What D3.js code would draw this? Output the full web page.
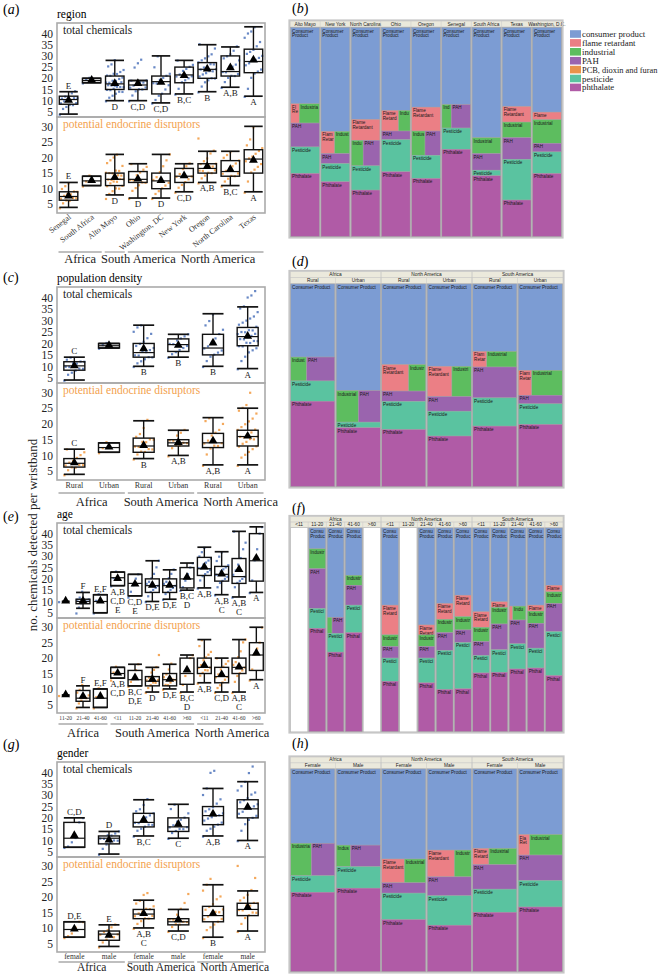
<!DOCTYPE html>
<html><head><meta charset="utf-8">
<script src="https://cdn.jsdelivr.net/npm/d3@7"></script>
<style>body{margin:0;background:#fff} svg{display:block}</style>
</head><body><svg id="c" width="660" height="974"></svg>
<script>
// ---------------- DATA: box plots ----------------
const yTicksTotal = [5,10,15,20,25,30,35,40];
const yTicksEdc = [5,10,15,20,25,30];

// (a) region
const regionCats = ["Senegal","South Africa","Alto Mayo","Ohio","Washington, DC","New York","Oregon","North Carolina","Texas"];
const regionGroups = ["Africa","Africa","South America","North America","North America","North America","North America","North America","North America"];
const regionTotStats = [[4,8.4,10.5,12,14],[18,18,19,20,20],[10,15,17.5,21,28],[10,15,17,19,19],[9,13,18.5,21,30],[13,18,21.5,25,28],[14,20,24,27,35],[16,21,23,30,34],[12,22.5,27.5,33,43]];
const regionTotMeans = [10,19,17.5,17.5,18,21,24,24.5,28];
const regionTotLetters = ["E","","D","C,D","C,D","B,C","B","A,B","A"];
const regionTotPts = [[4,6,7,8,8,9,9,10,10,10,11,11,11,12,12,13,14],[18,19,20],[10,11,12,13,14,14,15,15,15,16,16,16,17,17,17,17,18,18,18,19,19,20,20,21,21,22,22,23,24,25,26,28],[10,12,14,15,15,16,16,17,17,18,18,19,19,25,27,28],[9,10,12,13,15,17,18,18,19,20,21,22,25,30],[13,15,18,19,20,21,21,22,23,24,25,26,28],[14,16,18,19,20,20,21,22,22,23,23,24,24,25,25,26,26,27,28,29,30,31,33,35],[16,18,20,21,21,22,23,23,24,25,26,28,29,30,31,32,34],[12,15,20,22,23,24,26,27,28,28,29,30,31,32,33,34,36,38,40,41,43]];
const regionEdcStats = [[4,6.3,7.5,9,12],[11,11,12.5,14,14],[8,11,13,15,21],[7,12,13,15.5,18],[7,10,12.5,15,21],[9,12,14,16.5,18],[12,15,16.5,18,22],[11,14,15.5,19,22],[9,15,19.5,22.5,30]];
const regionEdcMeans = [7.5,12.5,13.5,13,12.5,14,17,16,19];
const regionEdcLetters = ["E","","D","D","D","C,D","A,B","B,C","A"];
const regionEdcPts = [[4,5,6,6,7,7,7,8,8,8,9,9,10,11,12],[11,12,14],[7,8,9,10,10,11,11,12,12,12,13,13,13,13,14,14,14,15,15,15,16,16,17,18,19,20,21],[7,9,10,11,12,12,13,13,14,15,16,17,18],[7,8,9,10,11,12,13,14,15,17,19,21],[9,10,11,12,13,14,14,15,16,17,18],[12,13,14,15,15,16,16,16,17,17,17,18,18,19,20,21,22,26],[11,12,13,14,14,15,15,16,16,17,18,19,20,21,22],[9,12,15,16,17,18,19,20,20,21,22,23,24,26,30]];

// (c) population density
const popCats = ["Rural","Urban","Rural","Urban","Rural","Urban"];
const popGroups = ["Africa","Africa","South America","South America","North America","North America"];
const popTotStats = [[4,8.3,10.2,12,14],[18,18,19,20,20],[10,14,16,20,28],[14,16.5,19.5,22,24],[10,15,18,24,33],[9,19,23,27,36]];
const popTotMeans = [10,19,17.5,19,20,23];
const popTotLetters = ["C","","B","B","B","A"];
const popTotPts = [[4,6,7,8,9,9,10,10,11,11,12,12,13,14],[18,19,20],[10,11,12,13,14,14,15,15,16,16,17,18,19,20,21,22,24,25,27,28],[14,15,16,17,18,19,20,20,21,22,23,24],[10,12,14,15,16,17,18,19,20,22,24,26,28,30,33],[9,12,14,16,17,18,19,19,20,20,21,21,22,22,23,23,24,24,25,25,26,26,27,28,29,30,31,32,34,35,36,40,41,43]];
const popEdcStats = [[4,6.3,7.5,9,12],[11,11,12.5,14,14],[9,11,13,15.5,21],[10,13,14,15,18],[7,12.5,14,17,22],[7,13,16,18,25]];
const popEdcMeans = [7.5,12.5,13,14,14.5,16];
const popEdcLetters = ["C","","B","A,B","A,B","A"];
const popEdcPts = [[4,5,6,6,7,7,7,8,8,9,10,11,12],[11,12,14],[9,10,11,11,12,12,13,13,14,14,15,15,16,17,19,21],[10,12,13,13,14,14,15,15,16,17,18],[7,10,12,13,13,14,14,15,16,17,18,20,21,22],[7,9,10,11,12,13,13,14,14,15,15,16,16,16,17,17,18,18,19,20,21,22,23,24,25,26,30]];

// (e) age
const ageCats = ["11-20","21-40","41-60","<11","11-20","21-40","41-60",">60","<11","21-40","41-60",">60"];
const ageGroups = ["Africa","Africa","Africa","South America","South America","South America","South America","South America","North America","North America","North America","North America"];
const ageTotStats = [[10,10,10,10,10],[7,9,10,11,14],[5,5,10,13,13],[17,17,20.5,23,23],[12.5,12.5,18,22,22],[10,14,17,20,28],[11,14,17,20,24],[15,16,20,25,27],[16,21.5,24.5,29.5,34],[13,19,22,25.5,32],[12,18,21,29,41],[14,19,28,40,43]];
const ageTotMeans = [10,10,10,20,17.5,17,17,20.5,25,22,24,29];
const ageTotLetters = ["","F","E,F","A,B\nC,D\nE","C,D\nE","D,E","D,E","B,C\nD","A,B","A,B\nC","A,B\nC","A"];
const ageTotPts = [[10],[5,7,9,10,10,11,11,12,14],[5,10,13],[17,20,23],[12,14,17,20,22],[10,12,14,15,16,17,18,19,20,22,25,28],[11,13,14,15,16,17,18,19,20,22,24],[15,16,19,22,25,27],[16,19,21,22,23,24,25,25,26,27,28,29,30,32,34],[13,16,18,19,20,21,22,22,23,24,25,26,28,30,32],[12,16,18,19,20,21,22,24,26,29,33,36,41],[14,19,28,33,40,43]];
const ageEdcStats = [[8,8,8,8,8],[4,6,7,9.5,11],[4,4,7,10,10],[13.5,13.5,15,17,17],[11,11,13,16,18],[9,11,12.5,14,17],[10,11,13,15,18],[9,11.5,15,20,21],[12,15,17,20,26],[9,12,14,17,20],[9,15,17,20,26],[13,16,21,25,30]];
const ageEdcMeans = [8,7.5,7.5,15,13.5,13,13,16,17.5,14.5,17,21.5];
const ageEdcLetters = ["","F","E,F","A,B\nC,D","B,C\nD,E","D","D,E","B,C\nD","A,B","C,D","A,B\nC","A"];
const ageEdcPts = [[8],[4,5,6,7,7,8,9,10,11],[4,7,10],[13,15,17],[11,12,13,16,18],[9,10,11,12,12,13,13,14,15,16,17,21],[10,11,11,12,13,13,14,15,16,18],[9,11,14,16,20,21],[12,14,15,16,16,17,17,18,19,20,21,22,24,26],[9,10,11,12,13,14,14,15,16,17,18,19,20],[9,12,14,15,16,17,18,19,20,22,25,26],[13,16,21,23,25,30]];

// (g) gender
const genderCats = ["female","male","female","male","female","male"];
const genderGroups = ["Africa","Africa","South America","South America","North America","North America"];
const genderTotStats = [[7,7,11,18,20],[4,8.5,11,12,14],[12,16,18,22,28],[11,14,16,20,26],[12,17,21,25,33],[10,20,24,28,36]];
const genderTotMeans = [12,10,19,17,21.5,24.5];
const genderTotLetters = ["C,D","D","B,C","C","A,B","A"];
const genderTotPts = [[7,7,9,11,18,20],[4,6,8,9,10,10,11,11,12,12,13,14],[12,14,15,16,17,17,18,18,19,20,21,22,23,24,26,28],[11,13,14,15,15,16,16,17,18,19,20,22,24,26],[12,14,15,16,17,18,19,20,20,21,21,22,23,24,25,26,28,30,33,40,41],[10,14,17,19,20,21,22,23,24,24,25,26,27,28,29,30,31,32,34,36,40,43]];
const genderEdcStats = [[7,7,9.5,12,12],[4,6,8,9,11],[10,13,14.5,16,19],[9,11,12,13,16],[7,12,14,17,24],[9,14,16,18,22]];
const genderEdcMeans = [9.5,7.5,14.5,12.5,14.5,16.5];
const genderEdcLetters = ["D,E","E","A,B\nC","C,D","B","A"];
const genderEdcPts = [[7,7,8,10,12,12],[4,5,6,7,7,8,8,9,9,10,11],[10,11,12,13,13,14,14,15,15,16,16,17,18,19,21,21],[9,10,11,11,12,12,13,13,14,16,18,21],[7,9,10,11,12,13,13,14,14,15,15,16,16,17,18,19,20,22,24,26],[9,11,13,14,15,15,16,16,17,17,18,18,19,20,21,22,26,30]];

// ---------------- DATA: treemaps ----------------
const classNames = ["Consumer Product","Flame Retardant","Industrial","PAH","PCB","Pesticide","Phthalate"];
const legendNames = ["consumer product","flame retardant","industrial","PAH","PCB, dioxin and furan","pesticide","phthalate"];
const classColors = ["#7c9cd3","#eb7f85","#5dbd5f","#9a64ae","#e8924a","#5ac3a0","#b05ba6"];

const regionTreeCols = ["Alto Mayo","New York","North Carolina","Ohio","Oregon","Senegal","South Africa","Texas","Washington, D.C."];
const regionTreeVals = [[230,17,41,72,0,80,190],[313,32,35,30,0,55,165],[277,63,32,45,0,73,140],[250,37,25,26,0,97,195],[240,72,34,39,0,70,175],[232,0,23,48,0,64,263],[332,0,48,50,0,17,183],[238,47,47,65,0,123,110],[255,23,71,26,0,65,190]];

const treeContinents = ["Africa","North America","South America"];
const popTreeSubs = ["Rural","Urban"];
const popTreeVals = [[220,0,26,46,0,61,257],[321,0,48,47,0,17,177],[243,49,31,31,0,85,172],[248,51,40,44,0,75,152],[203,15,32,93,0,85,182],[260,23,52,26,0,62,187]];

const ageTreeSubs = ["<11","11-20","21-40","41-60",">60"];
const ageTreeVals = [[0,0,0,0,0,0,0],[63,0,60,120,0,60,312],[270,0,14,34,0,57,240],[143,0,30,60,0,83,299],[0,0,0,0,0,0,0],
  [233,90,35,35,0,70,152],[0,0,0,0,0,0,0],[293,30,35,35,0,75,147],[228,48,40,54,0,118,127],[203,65,40,38,0,140,129],
  [253,47,43,42,0,53,177],[223,17,50,78,0,68,179],[236,9,33,72,0,76,189],[233,18,37,75,0,60,192],[173,20,35,85,0,133,169]];

const genderTreeSubs = ["Female","Male"];
const genderTreeVals = [[225,0,46,52,0,50,240],[230,0,21,44,0,65,252],[272,37,35,31,0,80,157],[245,50,31,57,0,89,140],[240,18,31,74,0,70,179],[198,16,46,77,0,80,195]];

// ---------------- DRAWING ----------------
const svg = d3.select("#c");
const SERIF = "'Liberation Serif','DejaVu Serif',serif";
const SANS = "'Liberation Sans',Arial,sans-serif";
const BLUE = "#4d73bb", ORANGE = "#f2993e", EDC_TEXT = "#f3a24e";
const X0 = 57, X1 = 265;
const TOP_DOMAIN = [2.7, 44.7], BOT_DOMAIN = [2.2, 33];

function panelLabel(x, y, letter) {
  const t = svg.append("text").attr("x", x).attr("y", y).attr("font-family", SERIF).attr("font-size", 14);
  t.append("tspan").text("(");
  t.append("tspan").attr("font-style", "italic").text(letter);
  t.append("tspan").text(")");
}

function boxPanel(p) {
  const g = svg.append("g");
  const n = p.cats.length;
  const x = d3.scaleBand().domain(d3.range(n)).range([X0, X1]);
  const bw = x.bandwidth();
  const boxW = Math.min(bw * 0.8, 21);
  const yT = d3.scaleLinear().domain(TOP_DOMAIN).range([p.mid, p.top]);
  const yB = d3.scaleLinear().domain(BOT_DOMAIN).range([p.bottom, p.mid]);

  g.append("text").attr("x", X0).attr("y", p.top - 5).attr("font-family", SERIF).attr("font-size", 11.5).text(p.title);

  function sub(y, stats, means, letters, pts, col, ticks, label, labelCol, y0, y1) {
    g.append("rect").attr("x", X0).attr("y", y0).attr("width", X1 - X0).attr("height", y1 - y0)
      .attr("fill", "none").attr("stroke", "#aaaaaa").attr("stroke-width", 1.6);
    const ax = g.append("g").attr("transform", `translate(${X0},0)`)
      .call(d3.axisLeft(y).tickValues(ticks).tickSize(0).tickPadding(4));
    ax.select(".domain").remove();
    ax.selectAll("text").attr("font-family", SERIF).attr("font-size", 11.5).attr("fill", "#222");
    g.append("text").attr("x", X0 + 6).attr("y", y0 + 11).attr("font-family", SERIF).attr("font-size", 11.5)
      .attr("fill", labelCol).text(label);
    pts.forEach((arr, i) => {
      const cx = x(i) + bw / 2;
      arr.forEach((v, j) => {
        const jx = (((j * 37) % 17) / 16 - 0.5) * boxW * 0.95;
        const jy = (((j * 13) % 7) / 6 - 0.5) * 0.6;
        g.append("rect").attr("x", cx + jx - 1.1).attr("y", y(v + jy) - 1.1).attr("width", 2.2).attr("height", 2.2)
          .attr("fill", col).attr("opacity", 0.85);
      });
    });
    stats.forEach((s, i) => {
      const cx = x(i) + bw / 2, hw = boxW / 2;
      const [lo, q1, md, q3, hi] = s;
      const bg = g.append("g").attr("stroke", "#111").attr("fill", "none");
      if (q3 > q1) {
        bg.append("rect").attr("x", cx - hw).attr("y", y(q3)).attr("width", boxW).attr("height", y(q1) - y(q3)).attr("stroke-width", 1.4);
        bg.append("line").attr("x1", cx - hw).attr("x2", cx + hw).attr("y1", y(md)).attr("y2", y(md)).attr("stroke-width", 1.2);
      }
      bg.append("line").attr("x1", cx).attr("x2", cx).attr("y1", y(hi)).attr("y2", y(q3)).attr("stroke-width", 1.4);
      bg.append("line").attr("x1", cx).attr("x2", cx).attr("y1", y(q1)).attr("y2", y(lo)).attr("stroke-width", 1.4);
      const capW = q3 > q1 ? hw : hw * 0.55;
      bg.append("line").attr("x1", cx - capW).attr("x2", cx + capW).attr("y1", y(hi)).attr("y2", y(hi)).attr("stroke-width", 1.7);
      bg.append("line").attr("x1", cx - capW).attr("x2", cx + capW).attr("y1", y(lo)).attr("y2", y(lo)).attr("stroke-width", 1.7);
      g.append("path").attr("d", d3.symbol(d3.symbolTriangle, 34)()).attr("transform", `translate(${cx},${y(means[i]) - 0.5})`).attr("fill", "#000");
      const lines = letters[i] ? letters[i].split("\n") : [];
      lines.forEach((ln, k) => {
        let ty;
        if (p.groups[i] === "Africa") ty = y(hi) - 3 - (lines.length - 1 - k) * 9;
        else ty = y(lo) + 9 + k * 9;
        g.append("text").attr("x", cx).attr("y", ty).attr("text-anchor", "middle").attr("font-family", SERIF)
          .attr("font-size", 9).attr("fill", "#222").text(ln);
      });
    });
  }
  sub(yT, p.totStats, p.totMeans, p.totLetters, p.totPts, BLUE, yTicksTotal, "total chemicals", "#222", p.top, p.mid);
  sub(yB, p.edcStats, p.edcMeans, p.edcLetters, p.edcPts, ORANGE, yTicksEdc, "potential endocrine disruptors", EDC_TEXT, p.mid, p.bottom);

  // x labels
  p.cats.forEach((c, i) => {
    const cx = x(i) + bw / 2;
    if (p.rot) {
      g.append("text").attr("transform", `translate(${cx + 3},${p.bottom + 5}) rotate(-38)`).attr("text-anchor", "end")
        .attr("font-family", SERIF).attr("font-size", 8).attr("fill", "#333").text(c);
    } else {
      g.append("text").attr("x", cx).attr("y", p.xLabY).attr("text-anchor", "middle").attr("font-family", SERIF)
        .attr("font-size", p.xLabSize).attr("fill", "#333").text(c);
    }
  });
  // groups
  const segs = [];
  p.groups.forEach((gname, i) => {
    if (!segs.length || segs[segs.length - 1].name !== gname) segs.push({ name: gname, a: i, b: i });
    else segs[segs.length - 1].b = i;
  });
  let prevRight = -Infinity;
  segs.forEach(s => {
    const xa = x(s.a) + 1.5, xb = x(s.b) + bw - 1.5;
    g.append("line").attr("x1", xa).attr("x2", xb).attr("y1", p.grpLineY).attr("y2", p.grpLineY)
      .attr("stroke", "#aaaaaa").attr("stroke-width", 1.3);
    const t = g.append("text").attr("y", p.grpLabY).attr("font-family", SERIF).attr("font-size", p.grpSize || 12.5).attr("fill", "#222").text(s.name);
    const w = t.node().getComputedTextLength();
    let left = (xa + xb) / 2 - w / 2;
    if (left < prevRight + 5) left = prevRight + 5;
    t.attr("x", left);
    prevRight = left + w;
  });
}

boxPanel({ title: "region", top: 23, mid: 117, bottom: 213, rot: true, grpLineY: 252, grpLabY: 263,
  cats: regionCats, groups: regionGroups,
  totStats: regionTotStats, totMeans: regionTotMeans, totLetters: regionTotLetters, totPts: regionTotPts,
  edcStats: regionEdcStats, edcMeans: regionEdcMeans, edcLetters: regionEdcLetters, edcPts: regionEdcPts });
boxPanel({ title: "population density", top: 287, mid: 383, bottom: 480, rot: false, xLabY: 488, xLabSize: 8, grpLineY: 493, grpLabY: 506,
  cats: popCats, groups: popGroups,
  totStats: popTotStats, totMeans: popTotMeans, totLetters: popTotLetters, totPts: popTotPts,
  edcStats: popEdcStats, edcMeans: popEdcMeans, edcLetters: popEdcLetters, edcPts: popEdcPts });
boxPanel({ title: "age", top: 523, mid: 618, bottom: 713, rot: false, xLabY: 720, xLabSize: 5.5, grpLineY: 724, grpLabY: 737,
  cats: ageCats, groups: ageGroups,
  totStats: ageTotStats, totMeans: ageTotMeans, totLetters: ageTotLetters, totPts: ageTotPts,
  edcStats: ageEdcStats, edcMeans: ageEdcMeans, edcLetters: ageEdcLetters, edcPts: ageEdcPts });
boxPanel({ title: "gender", top: 762, mid: 857, bottom: 952, rot: false, xLabY: 959, xLabSize: 7.5, grpLineY: 962, grpLabY: 970.5, grpSize: 11.5,
  cats: genderCats, groups: genderGroups,
  totStats: genderTotStats, totMeans: genderTotMeans, totLetters: genderTotLetters, totPts: genderTotPts,
  edcStats: genderEdcStats, edcMeans: genderEdcMeans, edcLetters: genderEdcLetters, edcPts: genderEdcPts });

svg.append("text").attr("transform", "translate(37,535) rotate(-90)").attr("text-anchor", "middle")
  .attr("font-family", SERIF).attr("font-size", 13).attr("fill", "#222").text("no. chemicals detected per wristband");

panelLabel(3, 14, "a"); panelLabel(3, 282, "c"); panelLabel(3, 521, "e"); panelLabel(3, 749, "g");
panelLabel(292, 13, "b"); panelLabel(292, 266, "d"); panelLabel(292, 513, "f"); panelLabel(292, 748, "h");

// ---------- treemaps ----------
function fitLine(g, X, Y, str, maxW) {
  const t = g.append("text").attr("x", X).attr("y", Y).attr("font-family", SANS).attr("font-size", 4.6).attr("fill", "#1a1a1a").text(str);
  let s = str;
  while (s.length > 1 && t.node().getComputedTextLength() > maxW) { s = s.slice(0, -1); t.text(s); }
  if (t.node().getComputedTextLength() > maxW) t.remove();
  return t;
}
function treePanel(p) {
  const g = svg.append("g");
  const nCols = p.vals.length;
  const colX = d3.scaleBand().domain(d3.range(nCols)).range([p.x0, p.x1]);
  const colW = colX.bandwidth();
  const hTop = p.hTop, plotTop = p.plotTop, plotBot = p.plotBot;
  const rowH = (plotTop - hTop) / (p.groups ? 2 : 1);
  g.append("rect").attr("x", p.x0).attr("y", hTop).attr("width", p.x1 - p.x0).attr("height", plotTop - hTop)
    .attr("fill", "#ebe9dc").attr("stroke", "#c2c2c2").attr("stroke-width", 0.6);
  const subs = p.groups ? p.groups.flatMap(() => p.subs) : p.subs;
  const subY = p.groups ? hTop + rowH : hTop;
  if (p.groups) {
    const per = p.subs.length;
    p.groups.forEach((gn, k) => {
      const gx0 = colX(k * per), gx1 = colX(k * per + per - 1) + colW;
      g.append("line").attr("x1", gx0).attr("x2", gx0).attr("y1", hTop).attr("y2", plotTop).attr("stroke", "#c2c2c2").attr("stroke-width", 0.8);
      g.append("text").attr("x", (gx0 + gx1) / 2).attr("y", hTop + rowH - 1.3).attr("text-anchor", "middle")
        .attr("font-family", SANS).attr("font-size", 4.8).attr("fill", "#222").text(gn);
    });
    g.append("line").attr("x1", p.x0).attr("x2", p.x1).attr("y1", subY).attr("y2", subY).attr("stroke", "#c2c2c2").attr("stroke-width", 0.6);
  }
  subs.forEach((s, c) => {
    g.append("line").attr("x1", colX(c)).attr("x2", colX(c)).attr("y1", subY).attr("y2", plotTop).attr("stroke", "#c8c8c8").attr("stroke-width", 0.5);
    g.append("text").attr("x", colX(c) + colW / 2).attr("y", subY + rowH - 1.3).attr("text-anchor", "middle")
      .attr("font-family", SANS).attr("font-size", 4.8).attr("fill", "#222").text(s);
  });
  g.append("rect").attr("x", p.x0).attr("y", plotTop).attr("width", p.x1 - p.x0).attr("height", plotBot - plotTop).attr("fill", "#b7b7b7");
  p.vals.forEach((vals, c) => {
    const cx0 = colX(c) + 0.8, w = colW - 1.6, h = plotBot - plotTop - 1;
    const total = d3.sum(vals);
    if (!total) {
      g.append("rect").attr("x", cx0).attr("y", plotTop + 0.5).attr("width", w).attr("height", h).attr("fill", "#fff");
      return;
    }
    const root = d3.hierarchy({ children: vals.map((v, i) => ({ k: i, value: v })) }).sum(d => d.value || 0);
    d3.treemap().size([w, h]).tile(d3.treemapSquarify.ratio(1)).round(false)(root);
    root.leaves().forEach(lf => {
      const rw = lf.x1 - lf.x0, rh = lf.y1 - lf.y0;
      if (rw <= 0 || rh <= 0) return;
      const X = cx0 + lf.x0, Y = plotTop + 0.5 + lf.y0;
      g.append("rect").attr("x", X).attr("y", Y).attr("width", rw).attr("height", rh)
        .attr("fill", classColors[lf.data.k]).attr("stroke", "#a5a5a5").attr("stroke-width", 0.4);
      if (rh < 4.5 || rw < 6) return;
      const name = classNames[lf.data.k];
      const tmp = fitLine(g, X + 1.3, Y + 5, name, 1e9);
      const full = tmp.node().getComputedTextLength();
      tmp.remove();
      let lines = [name];
      if (full > rw - 2 && name.includes(" ")) lines = name.split(" ");
      lines.forEach((ln, k) => {
        const by = Y + 5 + k * 4.6;
        if (by > Y + rh + 0.5) return;
        fitLine(g, X + 1.3, by, ln, rw - 2);
      });
    });
  });
  g.append("rect").attr("x", p.x0 - 0.8).attr("y", hTop - 0.8).attr("width", p.x1 - p.x0 + 1.6).attr("height", plotBot - hTop + 1.6)
    .attr("fill", "none").attr("stroke", "#c6c6c6").attr("stroke-width", 1.6);
}

treePanel({ x0: 290, x1: 562, hTop: 21, plotTop: 27, plotBot: 237, groups: null, subs: regionTreeCols, vals: regionTreeVals });
treePanel({ x0: 290, x1: 563, hTop: 271.5, plotTop: 283.5, plotBot: 487, groups: treeContinents, subs: popTreeSubs, vals: popTreeVals });
treePanel({ x0: 290, x1: 563, hTop: 516.5, plotTop: 527.5, plotBot: 732, groups: treeContinents, subs: ageTreeSubs, vals: ageTreeVals });
treePanel({ x0: 290, x1: 563, hTop: 757, plotTop: 768.5, plotBot: 972, groups: treeContinents, subs: genderTreeSubs, vals: genderTreeVals });

// legend for (b)
const lg = svg.append("g");
legendNames.forEach((nm, i) => {
  const yy = 34 + i * 8.9;
  lg.append("rect").attr("x", 570).attr("y", yy - 3.8).attr("width", 11).attr("height", 7.6).attr("fill", classColors[i]);
  const t = lg.append("text").attr("x", 582).attr("y", yy + 3).attr("font-family", SERIF).attr("font-size", 8.8).attr("fill", "#222").text(nm);
  let fs = 8.8;
  while (t.node().getComputedTextLength() > 76 && fs > 6) { fs -= 0.2; t.attr("font-size", fs); }
});
</script></body></html>
